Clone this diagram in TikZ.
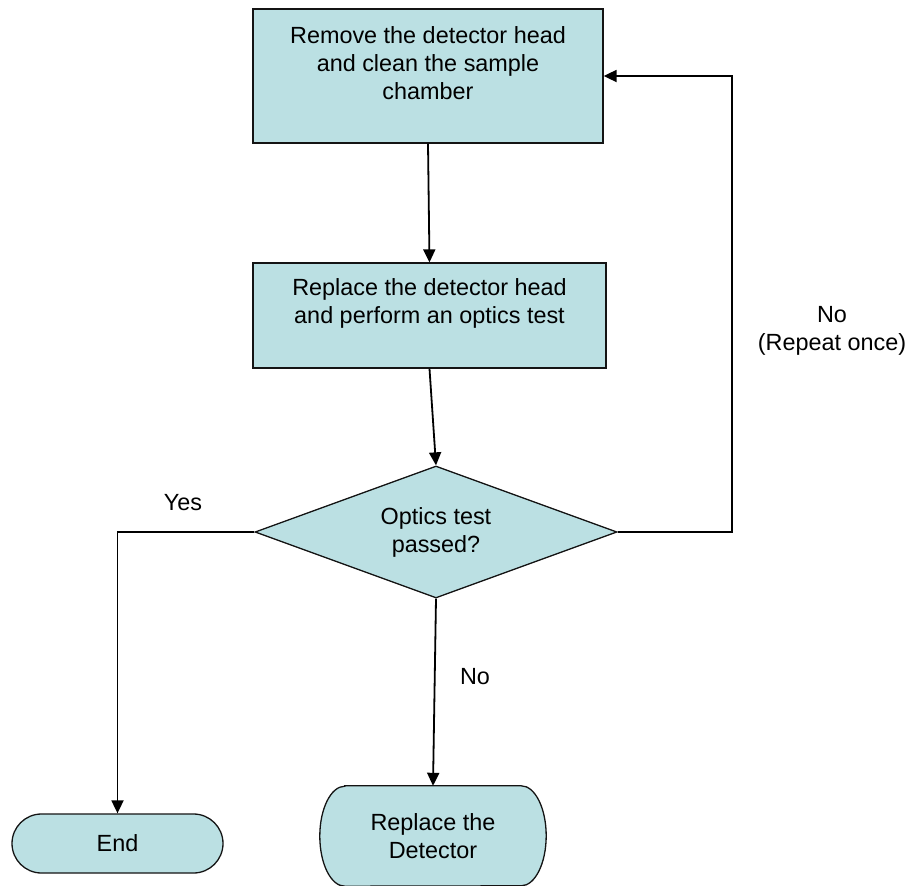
\documentclass[tikz,border=0pt]{standalone}
\usepackage{fontspec}
\setmainfont{Liberation Sans}
\usetikzlibrary{shapes.geometric,shapes.misc,arrows.meta,backgrounds}
\definecolor{cfill}{RGB}{187,224,227}
\definecolor{cline}{RGB}{20,20,20}
\tikzset{
  x=1pt, y=-1pt,
  every node/.style={font=\fontsize{23.4}{28}\selectfont, text=black},
  procbox/.style={rectangle, draw=cline, fill=cfill, line width=1.3pt, inner sep=0pt},
  decbox/.style={diamond, draw=cline, fill=cfill, line width=1.3pt, inner sep=0pt, aspect=2.74, align=center},
  termbox/.style={rounded rectangle, draw=cline, fill=cfill, line width=1.3pt, inner sep=0pt},
  plainbox/.style={rectangle, inner sep=0pt, align=center},
  conn/.style={draw=black, line width=1.8pt, -{Triangle[length=13pt,width=12pt]}},
  lbl/.style={align=center, inner sep=0pt},
}
\begin{document}
\begin{tikzpicture}
\useasboundingbox (0,0) rectangle (911,886);
\node[procbox, minimum width=350pt, minimum height=134pt,
  label={[lbl, yshift=13pt]center:Remove the detector head\\and clean the sample\\chamber}] (b1) at (428,76) {};
\node[procbox, minimum width=353pt, minimum height=105pt,
  label={[lbl, yshift=12.5pt]center:Replace the detector head\\and perform an optics test}] (b2) at (429.5,315.5) {};
\node[decbox, minimum width=362pt, minimum height=132pt] (d) at (436,532) {Optics test\\passed?};
\node[termbox, minimum width=211pt, minimum height=59pt] (e) at (117.5,843.5) {End};
\node[plainbox, minimum width=226pt, minimum height=100pt] (r) at (433,836) {Replace the\\Detector};
\begin{scope}[on background layer]
\draw[draw=cline, fill=cfill, line width=1.3pt]
  ([xshift=25pt]r.north west) -- ([xshift=-25pt]r.north east)
  arc[start angle=90, end angle=-90, x radius=25pt, y radius=50pt]
  -- ([xshift=25pt]r.south west)
  arc[start angle=270, end angle=90, x radius=25pt, y radius=50pt] -- cycle;
\end{scope}
\coordinate (turn) at (732,532);
\draw[conn] (b1.south) -- (b2.north);
\draw[conn] (b2.south) -- (d.north);
\draw[conn] (d.south) -- (r.north);
\draw[conn] (d.west) -| (e.north);
\draw[conn] (d.east) -- (turn) |- (b1.east);
\node[lbl] (yes) at (183,503) {Yes};
\node[lbl] (no1) at (475,677) {No};
\node[lbl] (no2) at (832,331) {No\\(Repeat once)};
\end{tikzpicture}
\end{document}
